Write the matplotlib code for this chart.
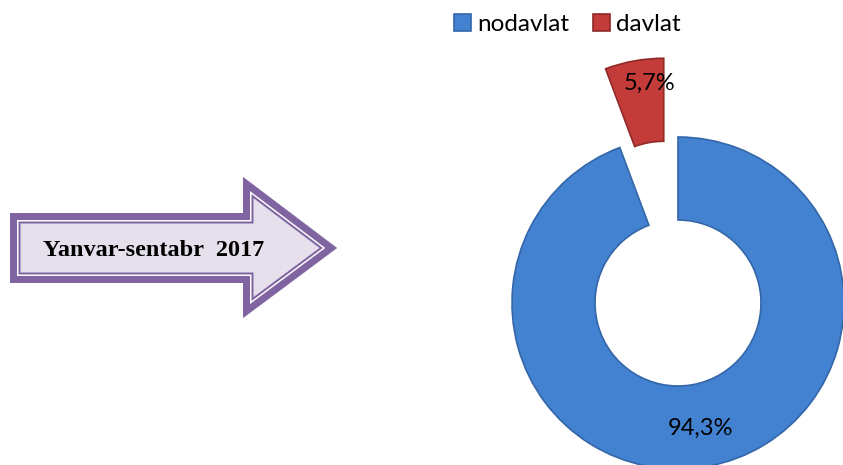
import numpy as np
import matplotlib
matplotlib.use("Agg")
import matplotlib.pyplot as plt
from matplotlib.patches import Polygon

labels = ['nodavlat', 'davlat']
shares = [94.3, 5.7]
colours = ['#4282d1', '#c43c39']
edges = ['#3466a8', '#8f2a28']
period = 'Yanvar-sentabr  2017'

W, H = 843, 465
fig = plt.figure(figsize=(W / 100, H / 100), dpi=100)

# background layer in pixel coords (y down) for the arrow
bg = fig.add_axes([0, 0, 1, 1])
bg.set_xlim(0, W)
bg.set_ylim(H, 0)
bg.axis('off')

arrow = np.array([[10, 213], [243, 213], [243, 177], [337, 248],
                  [243, 318], [243, 283], [10, 283]])
purple = '#8064a2'
pt = 72 / 100
base = Polygon(arrow, closed=True, facecolor='#e5e0ec', edgecolor='none')
bg.add_patch(base)
for half, col in [(10.5, purple), (8.5, 'white'), (7, purple)]:
    p = Polygon(arrow, closed=True, facecolor='none', edgecolor=col,
                linewidth=2 * half * pt, joinstyle='miter')
    bg.add_patch(p)
    p.set_clip_path(base)
bg.text(154, 250, period, ha='center', va='center', fontsize=17.5,
        fontweight='bold', family='Liberation Serif', color='black')

# donut
ax = fig.add_axes([0, 0, 1, 1])
ax.set_facecolor('none')
cx, cy, r = 678, 465 - 303, 166
wedges, texts, autotexts = ax.pie(
    shares, colors=colours, radius=r, center=(cx, cy), startangle=90,
    counterclock=False, explode=[0, 80],
    wedgeprops=dict(width=83, linewidth=1.2),
    autopct=lambda v: ('%.1f%%' % v).replace('.', ','), pctdistance=0.77,
    textprops=dict(fontsize=17, family='Lato', color='black'))
for w, e in zip(wedges, edges):
    w.set_edgecolor(e)
# push the small slice label out to the outer part of the exploded wedge
th = np.deg2rad((wedges[1].theta1 + wedges[1].theta2) / 2)
autotexts[1].set_position((cx + 222 * np.cos(th - 0.05), cy + 222 * np.sin(th - 0.05)))
ax.set_xlim(0, W)
ax.set_ylim(0, H)
ax.set_aspect('equal')
ax.axis('off')

fig.legend(wedges, labels, loc='center', bbox_to_anchor=(0.673, 0.948),
           ncol=2, frameon=False, handlelength=0.7, handleheight=0.7,
           handletextpad=0.25, columnspacing=1.0,
           prop=dict(family='Lato', size=17.5))

fig.savefig('out.png', dpi=100)
